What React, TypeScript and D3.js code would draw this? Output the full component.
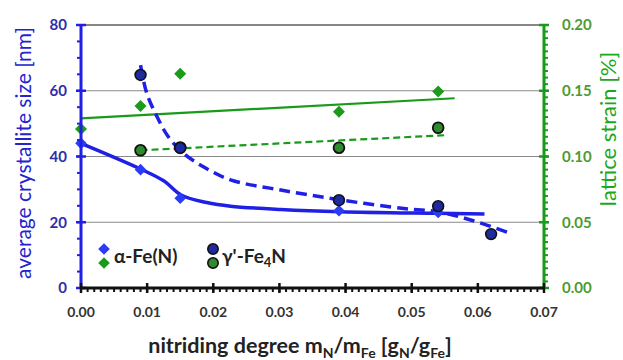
import React from "react";
import * as d3 from "d3";

// ---- data ----
const alphaX = [0, 0.009, 0.015, 0.039, 0.054];
const alphaSize = [44, 36, 27.3, 23.5, 23];
const gammaX = [0.009, 0.015, 0.039, 0.054, 0.062];
const gammaSize = [64.8, 42.6, 26.7, 24.9, 16.4];
const alphaStrainX = [0, 0.009, 0.015, 0.039, 0.054];
const alphaStrain = [0.121, 0.1384, 0.163, 0.134, 0.1495];
const gammaStrainX = [0.009, 0.015, 0.039, 0.054];
const gammaStrain = [0.1047, 0.1068, 0.1067, 0.1219];

// trend curves
const alphaTrendX = [0, 0.009, 0.0125, 0.0152, 0.019, 0.0226, 0.0302, 0.0392, 0.0539, 0.061];
const alphaTrendY = [44, 36.2, 32.6, 28.2, 26.0, 24.9, 23.9, 23.2, 22.7, 22.5];
const gammaTrendX = [0.009, 0.00995, 0.0115, 0.0132, 0.0155, 0.0185, 0.0226, 0.0302, 0.0392, 0.0488, 0.0539, 0.0589, 0.0647];
const gammaTrendY = [67.8, 59.2, 52.1, 46, 41, 36.9, 32.9, 29.8, 26.8, 24.2, 23.2, 20.7, 16.8];
const alphaStrainTrendX = [0, 0.0565];
const alphaStrainTrendY = [0.129, 0.1443];
const gammaStrainTrendX = [0.009, 0.0555];
const gammaStrainTrendY = [0.1047, 0.1163];

const xTicks = [0, 0.01, 0.02, 0.03, 0.04, 0.05, 0.06, 0.07];
const yTicks = [0, 20, 40, 60, 80];
const y2Ticks = [0, 0.05, 0.1, 0.15, 0.2];

const W = 623, H = 360;
const L = 81, R = 544, T = 25, B = 288;

const BLUE = "#1f1fe6";
const BLUE_TXT = "#2e2ea8";
const GREEN = "#1a9a1a";
const GREEN_TXT = "#4e9a30";
const FONT = "Lato, 'Open Sans', sans-serif";

function Diamond({ cx, cy, r, fill }: { cx: number; cy: number; r: number; fill: string }) {
  return <path d={`M${cx},${cy - r}L${cx + r},${cy}L${cx},${cy + r}L${cx - r},${cy}Z`} fill={fill} />;
}

export default function App() {
  const x = d3.scaleLinear().domain([0, 0.07]).range([L, R]);
  const y = d3.scaleLinear().domain([0, 80]).range([B, T]);
  const y2 = d3.scaleLinear().domain([0, 0.2]).range([B, T]);

  const smooth = d3.line<[number, number]>().x((d) => x(d[0])).y((d) => y(d[1])).curve(d3.curveCatmullRom.alpha(0.5));
  const straight2 = d3.line<[number, number]>().x((d) => x(d[0])).y((d) => y2(d[1]));

  const alphaTrend = alphaTrendX.map((v, i) => [v, alphaTrendY[i]] as [number, number]);
  const gammaTrend = gammaTrendX.map((v, i) => [v, gammaTrendY[i]] as [number, number]);
  const aST = alphaStrainTrendX.map((v, i) => [v, alphaStrainTrendY[i]] as [number, number]);
  const gST = gammaStrainTrendX.map((v, i) => [v, gammaStrainTrendY[i]] as [number, number]);

  const minorY = d3.range(0, 80.001, 5);
  const minorY2 = d3.range(0, 0.2001, 0.005);
  const minorX = d3.range(0, 0.07001, 0.001);

  return (
    <svg width={W} height={H} style={{ position: "absolute", left: 0, top: 0, background: "#fff" }} fontFamily={FONT}>
      <rect width={W} height={H} fill="#fff" />
      {/* gridlines */}
      {yTicks.filter((t) => t > 0).map((t) => (
        <line key={t} x1={L} x2={R} y1={y(t)} y2={y(t)} stroke={t === 80 ? "#111" : "#8a8a8a"} strokeWidth={1.2} />
      ))}

      {/* trend lines */}
      <path d={straight2(aST)!} fill="none" stroke={GREEN} strokeWidth={2.2} />
      <path d={straight2(gST)!} fill="none" stroke={GREEN} strokeWidth={2.2} strokeDasharray="7,4" />
      <path d={smooth(alphaTrend)!} fill="none" stroke={BLUE} strokeWidth={3.5} />
      <path d={smooth(gammaTrend)!} fill="none" stroke={BLUE} strokeWidth={3.5} strokeDasharray="11,6" />

      {/* markers */}
      {alphaStrainX.map((v, i) => (
        <Diamond key={"as" + i} cx={x(v)} cy={y2(alphaStrain[i])} r={6} fill="#1c9a1c" />
      ))}
      {gammaStrainX.map((v, i) => (
        <circle key={"gs" + i} cx={x(v)} cy={y2(gammaStrain[i])} r={5.4} fill="#2f8a2f" stroke="#111" strokeWidth={1.8} />
      ))}
      {alphaX.map((v, i) => (
        <Diamond key={"a" + i} cx={x(v)} cy={y(alphaSize[i])} r={5.8} fill="#2a3cf5" />
      ))}
      {gammaX.map((v, i) => (
        <circle key={"g" + i} cx={x(v)} cy={y(gammaSize[i])} r={5.4} fill="#1f2aa0" stroke="#111" strokeWidth={1.6} />
      ))}

      {/* left axis */}
      {minorY.map((t) => (
        <line key={"my" + t} x1={L - 4} x2={L} y1={y(t)} y2={y(t)} stroke={BLUE} strokeWidth={2} />
      ))}
      {yTicks.map((t) => (
        <line key={"My" + t} x1={L - 5} x2={L + 5} y1={y(t)} y2={y(t)} stroke={BLUE} strokeWidth={2.5} />
      ))}
      <line x1={L} x2={L} y1={T - 1} y2={B + 1} stroke={BLUE} strokeWidth={3} />
      {yTicks.map((t) => (
        <text key={"ly" + t} x={67} y={y(t)} dy="0.35em" textAnchor="end" fontSize={15} fontWeight="bold" fill={BLUE_TXT}>
          {t}
        </text>
      ))}

      {/* right axis */}
      {minorY2.map((t, i) => (
        <line key={"my2" + i} x1={R} x2={R + 4} y1={y2(t)} y2={y2(t)} stroke={GREEN} strokeWidth={2} />
      ))}
      {y2Ticks.map((t) => (
        <line key={"My2" + t} x1={R - 5} x2={R + 5} y1={y2(t)} y2={y2(t)} stroke={GREEN} strokeWidth={2.5} />
      ))}
      <line x1={R} x2={R} y1={T - 1} y2={B + 1} stroke={GREEN} strokeWidth={3} />
      {y2Ticks.map((t) => (
        <text key={"ly2" + t} x={562} y={y2(t)} dy="0.35em" textAnchor="start" fontSize={15} fontWeight="bold" fill={GREEN_TXT}>
          {t.toFixed(2)}
        </text>
      ))}

      {/* bottom axis */}
      {minorX.map((t, i) => (
        <line key={"mx" + i} x1={x(t)} x2={x(t)} y1={B} y2={B + 4} stroke="#111" strokeWidth={2} />
      ))}
      {xTicks.map((t) => (
        <line key={"Mx" + t} x1={x(t)} x2={x(t)} y1={B - 5} y2={B + 5} stroke="#111" strokeWidth={2.5} />
      ))}
      <line x1={L} x2={R} y1={B} y2={B} stroke="#111" strokeWidth={3} />
      {xTicks.map((t) => (
        <text key={"lx" + t} x={x(t)} y={312} dy="0.35em" textAnchor="middle" fontSize={14} fontWeight="bold" fill="#333">
          {t.toFixed(2)}
        </text>
      ))}

      {/* legend */}
      <Diamond cx={104} cy={249} r={5.8} fill="#2a3cf5" />
      <Diamond cx={104} cy={263} r={5.8} fill="#1c9a1c" />
      <text x={114} y={256} dy="0.35em" fontSize={19} fontWeight="bold" fill="#222">α-Fe(N)</text>
      <circle cx={213} cy={249} r={5.2} fill="#1f2aa0" stroke="#111" strokeWidth={1.6} />
      <circle cx={213} cy={263} r={5.2} fill="#2f8a2f" stroke="#111" strokeWidth={1.6} />
      <text x={222} y={256} dy="0.35em" fontSize={19} fontWeight="bold" fill="#222">
        γ'-Fe<tspan fontSize={13} dy="4">4</tspan><tspan dy="-4">N</tspan>
      </text>

      {/* axis titles */}
      <text transform="translate(24,153) rotate(-90)" textAnchor="middle" dy="0.35em" fontSize={21} fill="#2323d0">
        average crystallite size [nm]
      </text>
      <text transform="translate(608,129) rotate(-90)" textAnchor="middle" dy="0.35em" fontSize={22} fill="#1ca81c">
        lattice strain [%]
      </text>
      <text x={300} y={353} textAnchor="middle" fontSize={21.5} fontWeight="bold" fill="#222">
        nitriding degree m<tspan fontSize={14} dy="5">N</tspan>
        <tspan dy="-5">/m</tspan><tspan fontSize={14} dy="5">Fe</tspan>
        <tspan dy="-5"> [g</tspan><tspan fontSize={14} dy="5">N</tspan>
        <tspan dy="-5">/g</tspan><tspan fontSize={14} dy="5">Fe</tspan>
        <tspan dy="-5">]</tspan>
      </text>
    </svg>
  );
}
